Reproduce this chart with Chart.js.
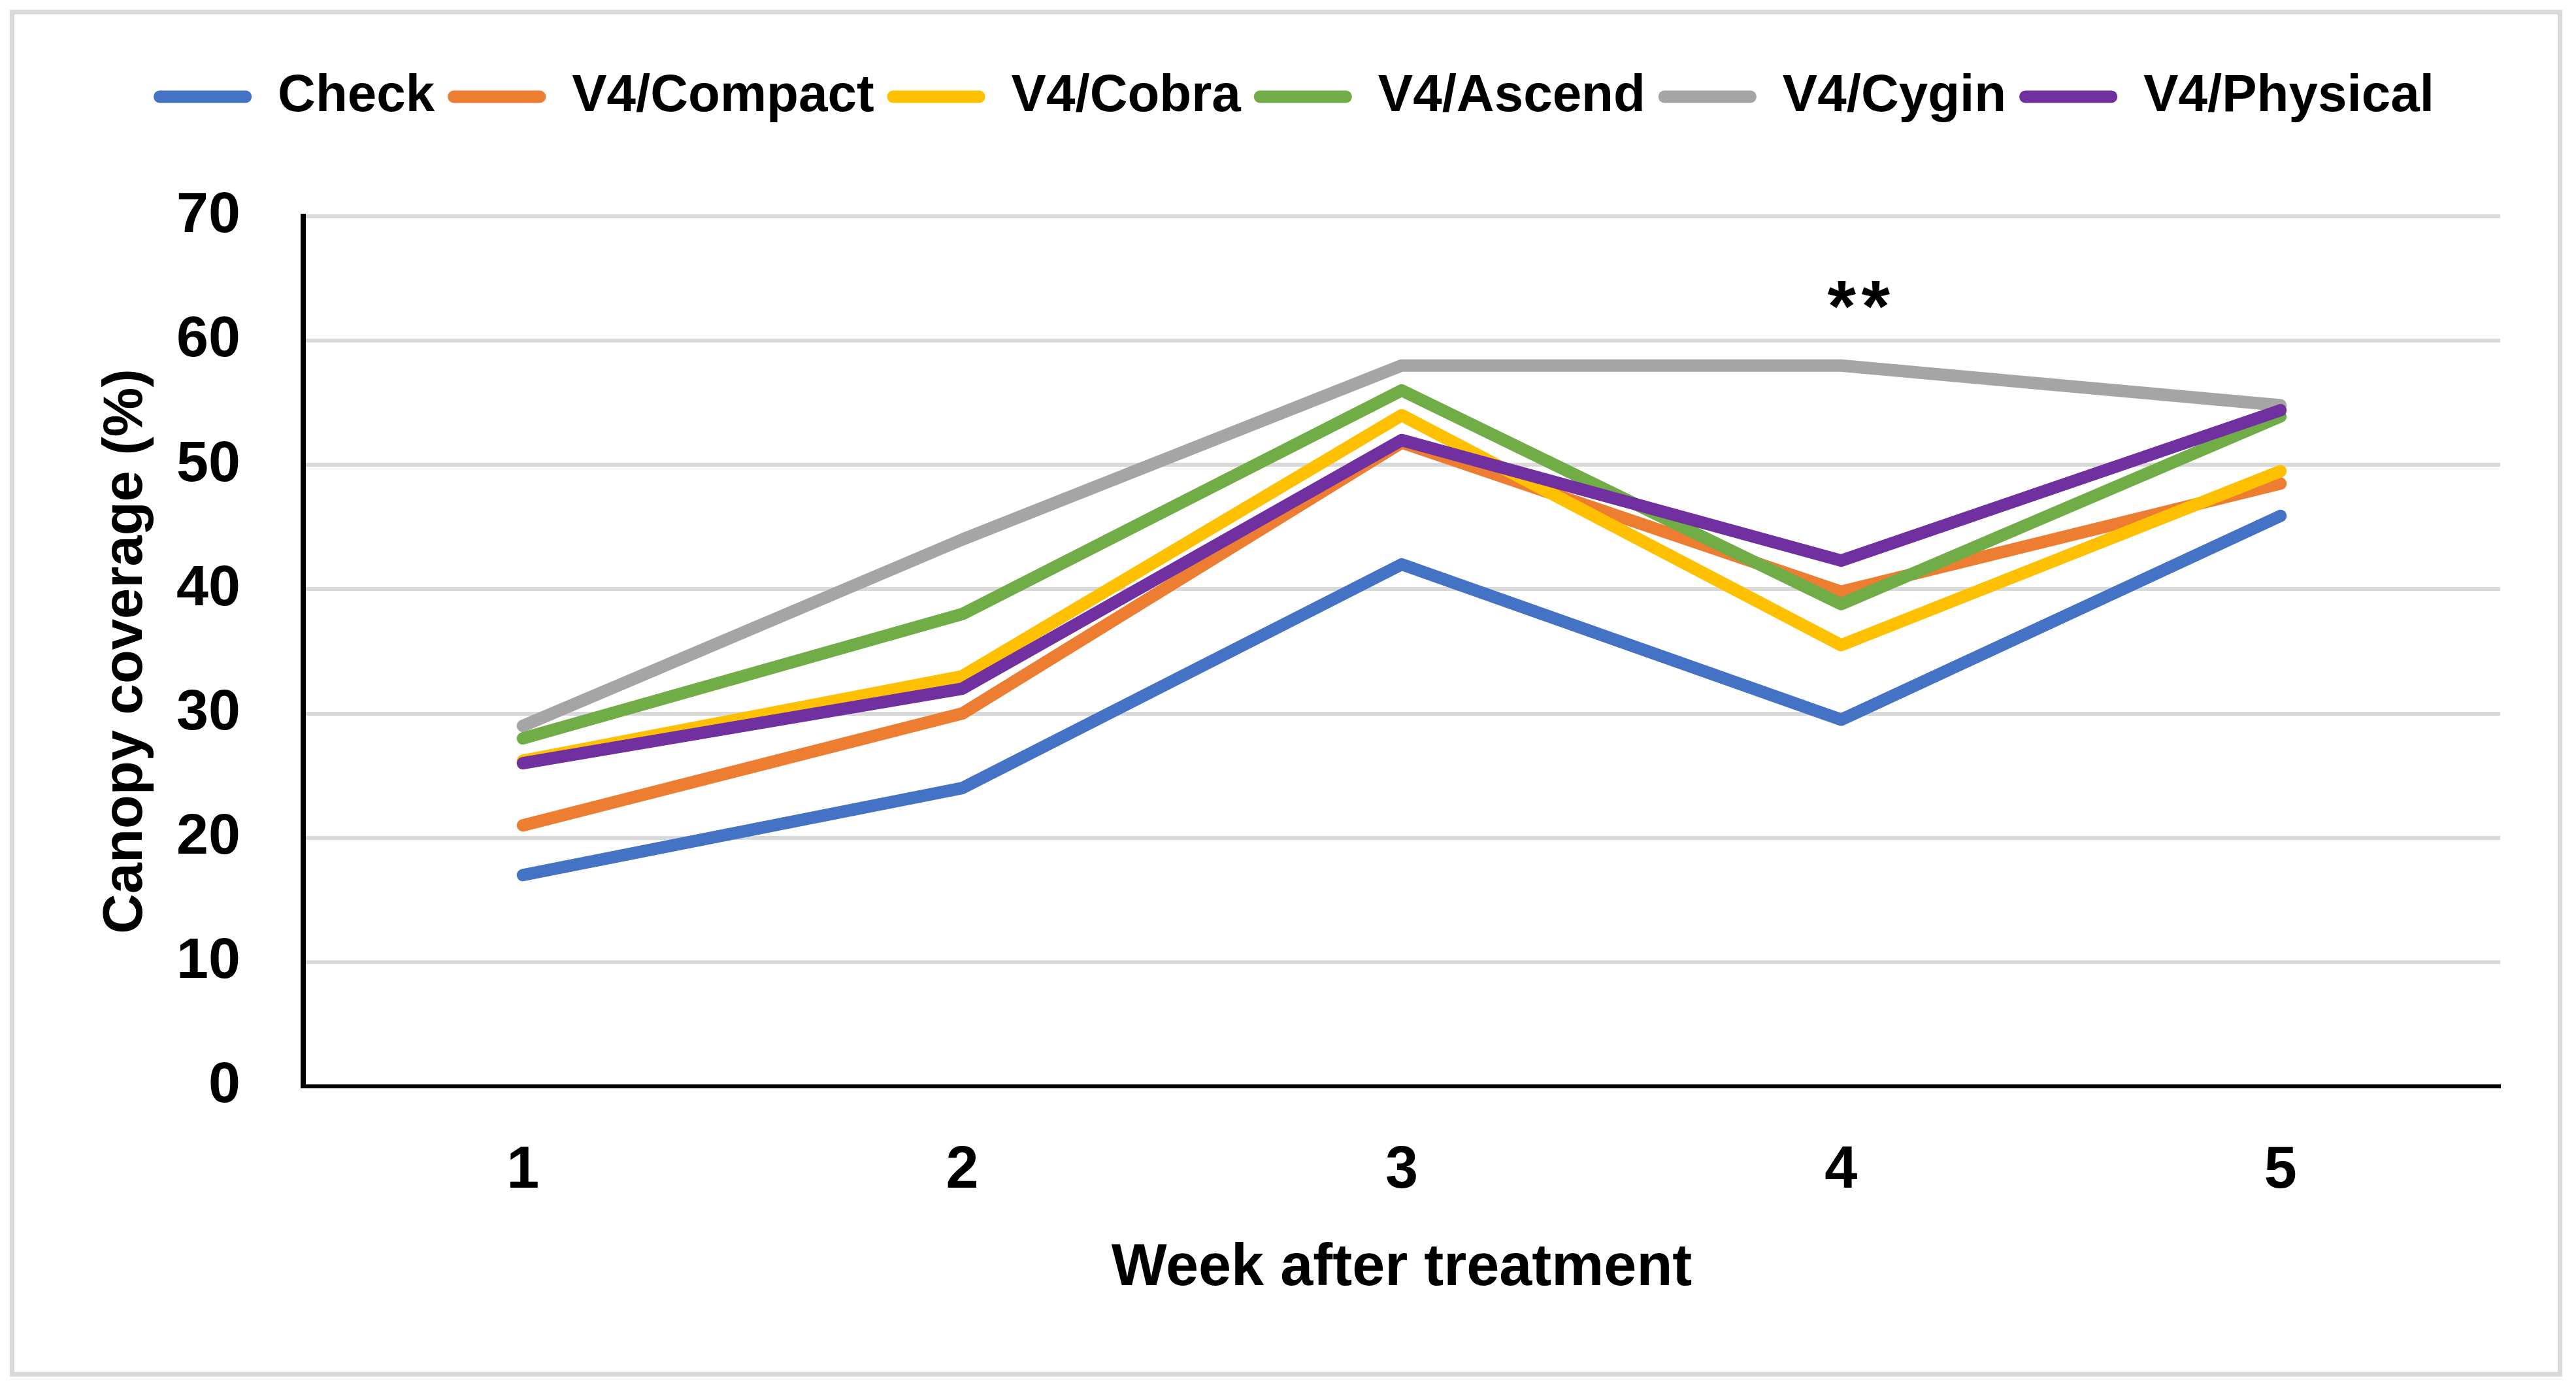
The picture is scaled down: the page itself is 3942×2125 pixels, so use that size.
<!DOCTYPE html>
<html lang="en">
<head>
<meta charset="UTF-8" />
<title>Canopy coverage</title>
<script src="https://cdn.jsdelivr.net/npm/chart.js"></script>
<style>
    body { margin: 0; background: #fff; }
    #wrap { position: relative; width: 3942px; height: 2125px; }
    #frame {
        position: absolute; left: 15px; top: 15px;
        width: 3906px; height: 2091px;
        box-sizing: border-box;
        border: 7px solid #d9d9d9;
        pointer-events: none;
    }
    canvas { position: absolute; left: 0; top: 0; }
</style>
</head>
<body>

<div id="wrap">
    <canvas id="chart" width="3942" height="2125"></canvas>
    <div id="frame"></div>
</div>

<script>
    const weeks = ['1', '2', '3', '4', '5'];
    const seriesNames = ['Check', 'V4/Compact', 'V4/Cobra', 'V4/Ascend', 'V4/Cygin', 'V4/Physical'];
    const seriesColors = ['#4472C4', '#ED7D31', '#FFC000', '#70AD47', '#A5A5A5', '#7030A0'];

    const check    = [17, 24, 42, 29.5, 45.9];
    const compact  = [21, 30, 51.8, 39.8, 48.5];
    const cobra    = [26.2, 33, 54, 35.5, 49.5];
    const ascend   = [28, 38, 56, 38.8, 53.9];
    const cygin    = [29, 44, 58, 58, 54.8];
    const physical = [26, 32, 52, 42.3, 54.4];

    const yTicks = [0, 10, 20, 30, 40, 50, 60, 70];

    // significance mark above week 4 (two asterisks)
    const noteMarks = ['*', '*'];
    const noteWeek = 3;
    const noteValue = 64.1;

    const FONT = 'Liberation Sans';
    Chart.defaults.font.family = FONT;
    Chart.defaults.color = '#000';

    const allSeries = [check, compact, cobra, ascend, cygin, physical];

    // make room between legend and plot
    const legendGap = {
        id: 'legendGap',
        beforeInit(chart) {
            const fit = chart.legend.fit;
            chart.legend.fit = function () {
                fit.bind(chart.legend)();
                this.height += 133;
            };
        }
    };

    const noteLabel = {
        id: 'noteLabel',
        afterDatasetsDraw(chart) {
            const { ctx, scales } = chart;
            const size = 112;
            const cx = scales.x.getPixelForValue(noteWeek) + 27;
            const y = scales.y.getPixelForValue(noteValue) + size * 0.57;
            ctx.save();
            ctx.font = `bold ${size}px "${FONT}"`;
            ctx.fillStyle = '#000';
            ctx.textAlign = 'center';
            ctx.textBaseline = 'alphabetic';
            noteMarks.forEach((m, i) => {
                ctx.fillText(m, cx + (i - (noteMarks.length - 1) / 2) * 52, y);
            });
            ctx.restore();
        }
    };

    const datasets = allSeries.map((data, i) => ({
        label: seriesNames[i],
        data: data,
        borderColor: seriesColors[i],
        backgroundColor: seriesColors[i],
        borderWidth: 19,
        borderCapStyle: 'round',
        borderJoinStyle: 'round',
        pointRadius: 0,
        pointHoverRadius: 0,
        tension: 0,
        fill: false,
        order: allSeries.length - 1 - i
    }));

    new Chart(document.getElementById('chart'), {
        type: 'line',
        data: { labels: weeks, datasets: datasets },
        options: {
            responsive: false,
            animation: false,
            devicePixelRatio: 1,
            layout: { padding: { left: 134, right: 116, top: 88, bottom: 0 } },
            plugins: {
                tooltip: { enabled: false },
                legend: {
                    position: 'top',
                    labels: {
                        boxWidth: 150,
                        boxHeight: 19,
                        padding: 20,
                        color: '#000',
                        font: { size: 80, weight: 'bold' },
                        sort: (a, b) => a.datasetIndex - b.datasetIndex,
                        generateLabels(chart) {
                            const items = Chart.defaults.plugins.legend.labels.generateLabels(chart);
                            items.forEach(it => {
                                it.lineWidth = 0;
                                it.fillStyle = seriesColors[it.datasetIndex];
                                it.borderRadius = 9;
                            });
                            return items;
                        }
                    }
                }
            },
            scales: {
                x: {
                    offset: true,
                    grid: { display: false, drawTicks: false },
                    border: { color: '#000', width: 6 },
                    ticks: {
                        padding: 76,
                        color: '#000',
                        font: { size: 90, weight: 'bold' }
                    },
                    title: {
                        display: true,
                        text: 'Week after treatment',
                        color: '#000',
                        font: { size: 90, weight: 'bold' },
                        padding: { top: 0, bottom: 130 }
                    },
                    afterFit(scale) { scale.height = 463; }
                },
                y: {
                    min: yTicks[0],
                    max: yTicks[yTicks.length - 1],
                    afterBuildTicks(scale) { scale.ticks = yTicks.map(v => ({ value: v })); },
                    grid: { color: '#d9d9d9', lineWidth: 6, drawTicks: false },
                    border: { color: '#000', width: 8 },
                    ticks: {
                        padding: 96,
                        color: '#000',
                        font: { size: 88, weight: 'bold' }
                    },
                    title: {
                        display: true,
                        text: 'Canopy coverage (%)',
                        color: '#000',
                        font: { size: 85, weight: 'bold' },
                        padding: { top: 9, bottom: 0 }
                    },
                    afterFit(scale) { scale.width = 330; }
                }
            }
        },
        plugins: [legendGap, noteLabel]
    });
</script>

</body>
</html>
